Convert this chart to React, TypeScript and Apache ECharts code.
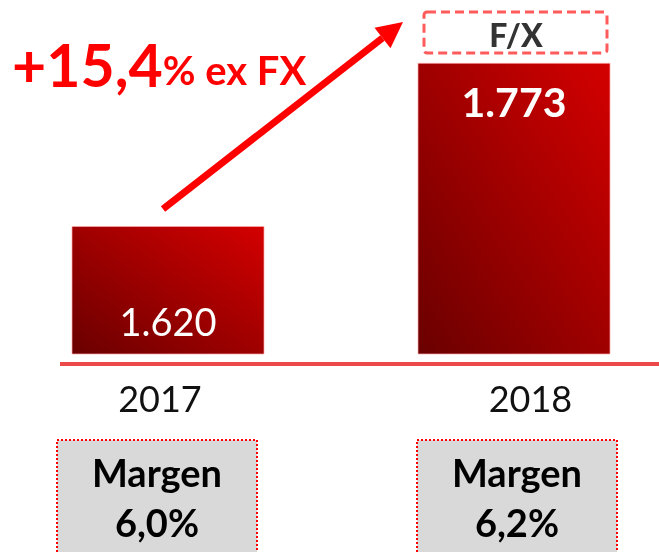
import React, { useEffect, useRef } from 'react';
import * as echarts from 'echarts';

const categories = ['2017', '2018'];
const revenue = [1620, 1773];
const marginPct = ['6,0%', '6,2%'];
const marginTitle = 'Margen';
const growthMain = '+15,4';
const growthSuffix = '% ex FX';
const fxLabel = 'F/X';

const FONT = 'Lato, "Noto Sans", sans-serif';

const fmt = (v: number) => `${Math.floor(v / 1000)}.${String(v % 1000).padStart(3, '0')}`;

export default function App() {
  const ref = useRef<HTMLDivElement>(null);
  useEffect(() => {
    const chart = echarts.init(ref.current!, null, { renderer: 'svg' });
    const barGradient = new echarts.graphic.LinearGradient(1, 0, 0, 1, [
      { offset: 0, color: '#d40000' },
      { offset: 1, color: '#6a0000' },
    ]);
    const tipX = 403, tipY = 22, startX = 163, startY = 209;
    const dx = tipX - startX, dy = tipY - startY;
    const len = Math.sqrt(dx * dx + dy * dy);
    const ux = dx / len, uy = dy / len;
    const nx = -uy, ny = ux;
    const headLen = 26, headHalf = 13;
    const bx = tipX - headLen * ux, by = tipY - headLen * uy;

    chart.setOption({
      animation: false,
      grid: { left: -5, right: -28, top: 34, bottom: 198, outerBoundsMode: 'none', containLabel: false },
      xAxis: {
        type: 'category',
        data: categories,
        axisLine: { show: false },
        axisTick: { show: false },
        axisLabel: {
          margin: 26,
          formatter: (v: string, i: number) => (i === 0 ? `{l|${v}}` : `{r|${v}}`),
          rich: {
            l: { padding: [0, 16, 0, 0], fontSize: 36, fontFamily: FONT, color: '#111' },
            r: { padding: [0, 0, 0, 33], fontSize: 36, fontFamily: FONT, color: '#111' },
          },
        },
      },
      yAxis: { type: 'value', min: 1500, max: 1800, show: false },
      series: [
        {
          type: 'bar',
          barWidth: 193,
          data: revenue.map((v, i) => ({
            value: v,
            label:
              i === 0
                ? { position: 'insideBottom', distance: 15, fontWeight: 'normal', fontSize: 38 }
                : { position: 'insideTop', distance: 18, fontWeight: 'bold', fontSize: 41 },
          })),
          itemStyle: { color: barGradient, borderColor: 'rgba(255,170,170,0.7)', borderWidth: 1 },
          label: {
            show: true,
            formatter: (p: any) => fmt(p.value),
            color: '#fff',
            fontFamily: FONT,
          },
        },
      ],
      graphic: [
        {
          type: 'line',
          shape: { x1: 60, y1: 364, x2: 659, y2: 364 },
          style: { stroke: '#ec4a4a', lineWidth: 4 },
        },
        {
          type: 'text',
          x: 12,
          y: 94,
          style: {
            text: `{a|${growthMain}}{b|${growthSuffix}}`,
            verticalAlign: 'bottom',
            rich: {
              a: { fontSize: 59, fontWeight: 'bold', fontFamily: FONT, fill: '#ff0000', verticalAlign: 'bottom' },
              b: { fontSize: 40, fontWeight: 'bold', fontFamily: FONT, fill: '#ff0000', verticalAlign: 'bottom', padding: [0, 0, 4, 0] },
            },
          },
        },
        {
          type: 'line',
          shape: { x1: startX, y1: startY, x2: bx, y2: by },
          style: { stroke: '#ff0000', lineWidth: 7 },
        },
        {
          type: 'polygon',
          shape: {
            points: [
              [tipX, tipY],
              [bx + headHalf * nx, by + headHalf * ny],
              [bx - headHalf * nx, by - headHalf * ny],
            ],
          },
          style: { fill: '#ff0000' },
        },
        {
          type: 'rect',
          shape: { x: 424, y: 12, width: 183, height: 41, r: 3 },
          style: { fill: '#fff', stroke: '#ff5b5b', lineWidth: 3, lineDash: [9, 5] },
        },
        {
          type: 'text',
          x: 516,
          y: 34,
          style: {
            text: fxLabel,
            fontSize: 32,
            fontWeight: 900,
            fontFamily: FONT,
            fill: '#333',
            align: 'center',
            verticalAlign: 'middle',
          },
        },
        ...[57, 417].flatMap((x, i) => [
          {
            type: 'rect',
            shape: { x, y: 440, width: 200, height: 130 },
            style: { fill: '#d9d9d9', stroke: '#ff0000', lineWidth: 2, lineDash: [2, 2] },
          },
          {
            type: 'text',
            x: x + 100,
            y: 497,
            style: {
              text: `${marginTitle}\n${marginPct[i]}`,
              fontSize: 38,
              fontWeight: 'bold',
              fontFamily: FONT,
              fill: '#000',
              align: 'center',
              verticalAlign: 'middle',
              lineHeight: 50,
            },
          },
        ]),
      ],
    });
    return () => chart.dispose();
  }, []);
  return <div ref={ref} style={{ position: 'fixed', left: 0, top: 0, width: 659, height: 552 }} />;
}
